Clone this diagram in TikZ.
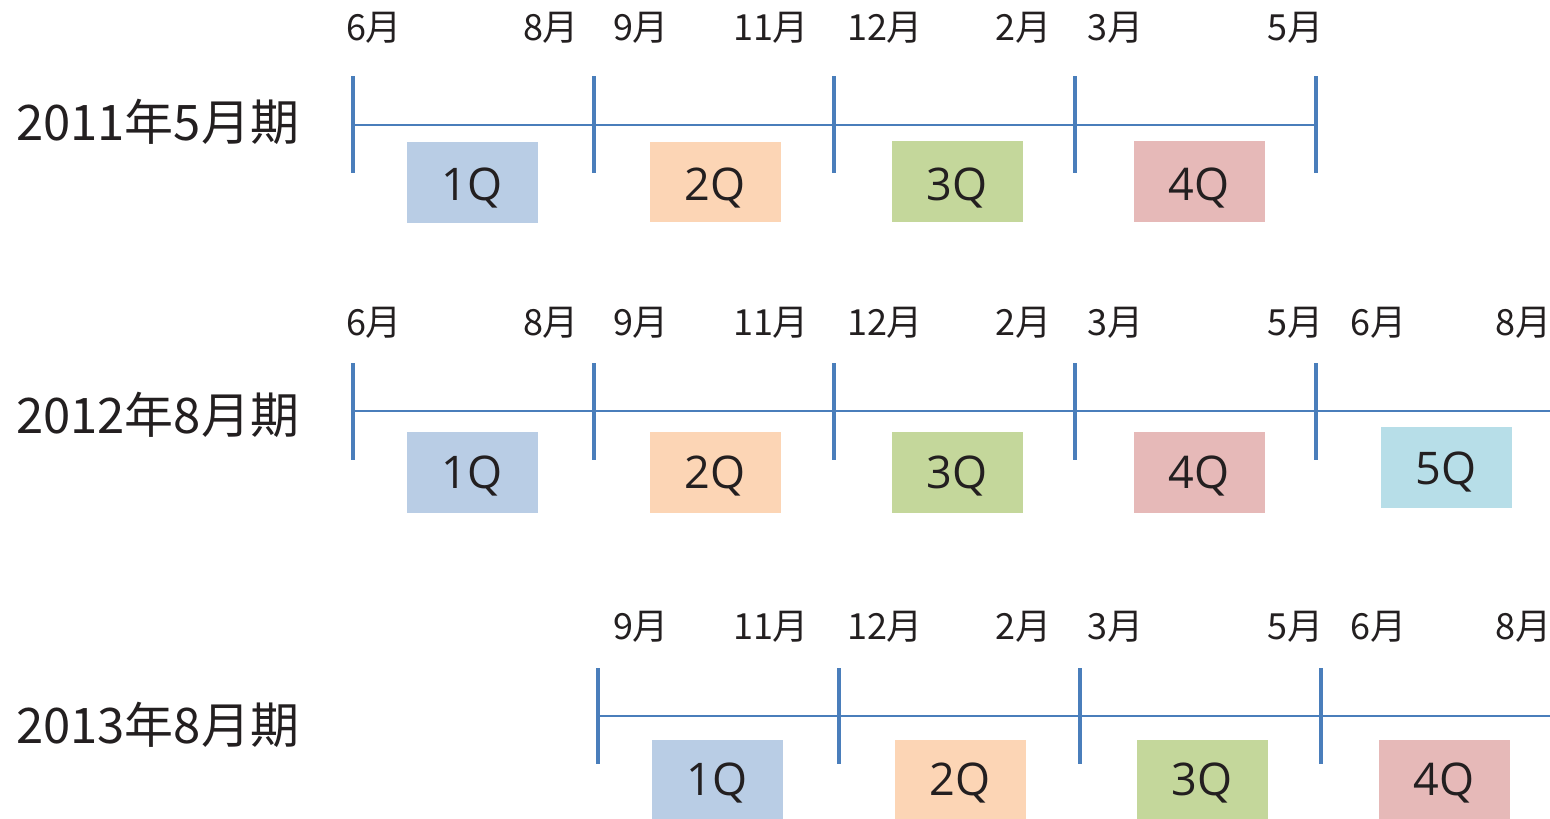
\documentclass[tikz,border=0pt]{standalone}
\usepackage{fontspec}
\setmainfont{Noto Sans CJK JP}
\newfontfamily\qfont{Open Sans}
\definecolor{axis}{HTML}{4A7EBB}
\definecolor{qone}{HTML}{B9CDE5}
\definecolor{qtwo}{HTML}{FCD5B5}
\definecolor{qthree}{HTML}{C4D79B}
\definecolor{qfour}{HTML}{E6B9B8}
\definecolor{qfive}{HTML}{B7DEE8}
\definecolor{ink}{HTML}{231F20}
\tikzset{
  tickline/.style={draw=axis, line width=3.5pt},
  axisline/.style={draw=axis, line width=2.5pt},
  qbox/.style={inner sep=0pt, font=\qfont\fontsize{45}{45}\selectfont, text=ink},
  month/.style={inner sep=0pt, font=\fontsize{36}{36}\selectfont, text=ink},
  rowlabel/.style={inner sep=0pt, anchor=west, font=\fontsize{49}{49}\selectfont, text=ink},
}
\begin{document}
\begin{tikzpicture}[x=1pt,y=-1pt]
\useasboundingbox (0,0) rectangle (1550,819);
% row labels
\node[rowlabel] (r1) at (16,122) {2011年5月期};
\node[rowlabel] (r2) at (16,415) {2012年8月期};
\node[rowlabel] (r3) at (16,725) {2013年8月期};
% ---------- row 1
\draw[axisline] (353,125) -- (1316,125);
\foreach \x in {353,594,834,1075,1316} \draw[tickline] (\x,76) -- (\x,173);
\foreach \x/\t [count=\i] in {374/6月,551/8月,641/9月,771/11月,885/12月,1023/2月,1115/3月,1295/5月}
  \node[month] (ma\i) at (\x,28) {\t};
\fill[qone]   (407,142) rectangle (538,223);
\fill[qtwo]   (650,142) rectangle (781,222);
\fill[qthree] (892,141) rectangle (1023,222);
\fill[qfour]  (1134,141) rectangle (1265,222);
\node[qbox] (a1) at (472,188) {1Q};
\node[qbox] (a2) at (715,188) {2Q};
\node[qbox] (a3) at (957,188) {3Q};
\node[qbox] (a4) at (1199,188) {4Q};
% ---------- row 2
\draw[axisline] (353,411) -- (1550,411);
\foreach \x in {353,594,834,1075,1316} \draw[tickline] (\x,363) -- (\x,460);
\foreach \x/\t [count=\i] in {374/6月,551/8月,641/9月,771/11月,885/12月,1023/2月,1115/3月,1295/5月,1378/6月,1523/8月}
  \node[month] (mb\i) at (\x,323) {\t};
\fill[qone]   (407,432) rectangle (538,513);
\fill[qtwo]   (650,432) rectangle (781,513);
\fill[qthree] (892,432) rectangle (1023,513);
\fill[qfour]  (1134,432) rectangle (1265,513);
\fill[qfive]  (1381,427) rectangle (1512,508);
\node[qbox] (b1) at (472,476) {1Q};
\node[qbox] (b2) at (715,476) {2Q};
\node[qbox] (b3) at (957,476) {3Q};
\node[qbox] (b4) at (1199,476) {4Q};
\node[qbox] (b5) at (1446,472) {5Q};
% ---------- row 3
\draw[axisline] (598,716) -- (1550,716);
\foreach \x in {598,839,1080,1321} \draw[tickline] (\x,668) -- (\x,764);
\foreach \x/\t [count=\i] in {641/9月,771/11月,885/12月,1023/2月,1115/3月,1295/5月,1378/6月,1523/8月}
  \node[month] (mc\i) at (\x,627) {\t};
\fill[qone]   (652,740) rectangle (783,819);
\fill[qtwo]   (895,740) rectangle (1026,819);
\fill[qthree] (1137,740) rectangle (1268,819);
\fill[qfour]  (1379,740) rectangle (1510,819);
\node[qbox] (c1) at (717,783) {1Q};
\node[qbox] (c2) at (960,783) {2Q};
\node[qbox] (c3) at (1202,783) {3Q};
\node[qbox] (c4) at (1444,783) {4Q};
\end{tikzpicture}
\end{document}
